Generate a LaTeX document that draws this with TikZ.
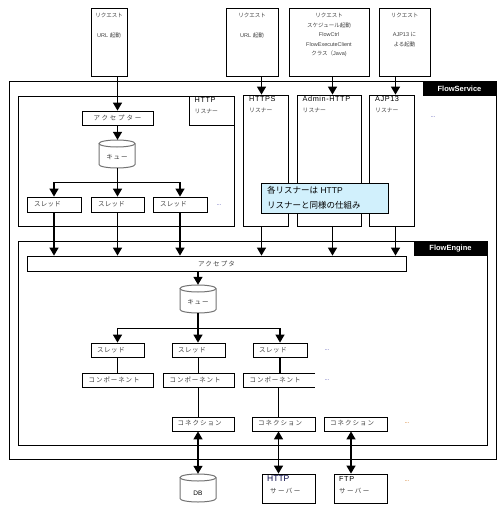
\documentclass[tikz,border=0pt]{standalone}
\usepackage{fontspec}
\setmainfont{Liberation Sans}
\newfontfamily\ja{Noto Sans CJK JP}
\usetikzlibrary{arrows.meta,fit}
\tikzset{
  bx/.style={draw, line width=0.8pt, inner sep=0pt, fill=white},
  area/.style={draw, line width=0.9pt, inner sep=0pt},
  tag/.style={fill=black, inner sep=0pt, text=white, font=\bfseries\fontsize{7.5}{8}\selectfont},
  arr/.style={line width=1.3pt, -{Triangle[width=9pt,length=8pt]}},
  darr/.style={line width=1.3pt, {Triangle[width=9pt,length=8pt]}-{Triangle[width=9pt,length=8pt]}},
  ln/.style={line width=1.3pt},
  jt/.style={font=\fontsize{5.5}{7}\selectfont, text=black!75, inner sep=0pt},
  js/.style={font=\fontsize{6.5}{7}\selectfont\ja\addfontfeature{LetterSpace=#1}, text=black!75, inner sep=0pt},
  js/.default=10,
  jl/.style={font=\fontsize{5.8}{7}\selectfont\ja, text=black!75, inner sep=0pt},
  lt/.style={font=\fontsize{7.3}{8}\selectfont\addfontfeature{LetterSpace=8}, text=black, inner sep=0pt},
  dots/.style={font=\fontsize{6}{7}\selectfont, text=blue!40!gray, inner sep=0pt},
  cyl/.style={draw=black!55, line width=1pt},
  hid/.style={inner sep=0pt},
}
\begin{document}
\begin{tikzpicture}[x=1pt,y=-1pt]
\useasboundingbox[fill=white] (0,0) rectangle (503,522);

% request boxes
\node[bx, fit={(91,8)(127,76)}] (r1) {};
\node[jt] (r1a) at (109,15) {\ja リクエスト};
\node[jt] (r1b) at (109,35) {URL {\ja 起動}};
\node[bx, fit={(226,8)(278,76)}] (r2) {};
\node[jt] (r2a) at (252,15) {\ja リクエスト};
\node[jt] (r2b) at (252,35) {URL {\ja 起動}};
\node[bx, fit={(289,8)(369,76)}] (r3) {};
\node[jt] (r3a) at (329,15) {\ja リクエスト};
\node[jt] (r3b) at (329,25.5) {\ja スケジュール起動};
\node[jt] (r3c) at (329,35) {FlowCtrl};
\node[jt] (r3d) at (329,44.5) {FlowExecuteClient};
\node[jt] (r3e) at (329,54) {{\ja クラス（}Java)};
\node[bx, fit={(379,8)(430,76)}] (r4) {};
\node[jt] (r4a) at (404.5,15) {\ja リクエスト};
\node[jt] (r4b) at (404.5,35) {AJP13 {\ja に}};
\node[jt] (r4c) at (404.5,44.5) {\ja よる起動};

% FlowService
\node[area, fit={(9,81)(496,459)}] (fs) {};
\node[tag, fit={(423,81)(496,96)}] (fsl) {};
\node[tag] (fslt) at (459.5,88.5) {FlowService};

% HTTP listener
\node[bx, fit={(18,96)(234,226)}] (hl) {};
\node[bx, fit={(189,96)(234,125)}] (hll) {};
\node[lt, anchor=north west] (hllt) at (194.5,97.5) {HTTP};
\node[jl, anchor=north west] (hllj) at (194.5,109) {リスナー};

\node[bx, fit={(243,95)(288,226)}] (hs) {};
\node[lt, anchor=north west] (hst) at (249,96.5) {HTTPS};
\node[jl, anchor=north west] (hsj) at (249,108) {リスナー};
\node[bx, fit={(297,95)(361,226)}] (ad) {};
\node[lt, anchor=north west] (adt) at (302.5,96.5) {Admin-HTTP};
\node[jl, anchor=north west] (adj) at (302.5,108) {リスナー};
\node[bx, fit={(369,95)(414,226)}] (aj) {};
\node[lt, anchor=north west] (ajt) at (375,96.5) {AJP13};
\node[jl, anchor=north west] (ajj) at (375,108) {リスナー};
\node[dots] (fsd) at (433,117) {...};

\node[bx, fill=cyan!18, fit={(261,183)(388,213)}] (note) {};
\node[anchor=west, inner sep=0pt, font=\fontsize{8.5}{10}\selectfont] (note1) at (267,190.5) {{\ja 各リスナーは} HTTP};
\node[anchor=west, inner sep=0pt, font=\fontsize{8.5}{10}\selectfont] (note2) at (267,205) {\ja リスナーと同様の仕組み};

% HTTP listener internals
\node[bx, fit={(82,111)(153,125)}] (acc1) {};
\node[js=28] (acc1t) at (117.5,118) {アクセプター};
\draw[cyl] (99,143.5) -- (99,164.5) arc[start angle=180,end angle=360,x radius=18pt,y radius=3.5pt] -- (135,143.5);
\draw[cyl] (117,143.5) ellipse[x radius=18pt,y radius=3.5pt];
\node[hid, fit={(99,140)(135,168)}] (q1) {};
\node[js=12] (q1t) at (117,157) {キュー};
\node[bx, fit={(27,197)(81,212)}] (t1) {};
\node[js=3, anchor=west] (t1t) at (34,204.5) {スレッド};
\node[bx, fit={(91,197)(144,212)}] (t2) {};
\node[js=3, anchor=west] (t2t) at (98,204.5) {スレッド};
\node[bx, fit={(153,197)(207,212)}] (t3) {};
\node[js=3, anchor=west] (t3t) at (160,204.5) {スレッド};
\node[dots] (td) at (219,205) {...};

\draw[arr] (r1.south -| acc1.north) -- (acc1.north);
\draw[arr] (acc1.south) -- (q1.north -| acc1.south);
\coordinate (b1) at (117.5,182.3);
\draw[arr] (q1.south -| acc1.south) -- (t2.north);
\draw[ln] (t1.north |- b1) -- (t3.north |- b1);
\draw[arr] (t1.north |- b1) -- (t1.north);
\draw[arr] (t3.north |- b1) -- (t3.north);

\draw[arr] (r2.south -| 261.5,0) -- (hs.north -| 261.5,0);
\draw[arr] (r3.south -| 332.5,0) -- (ad.north -| 332.5,0);
\draw[arr] (r4.south -| 395.5,0) -- (aj.north -| 395.5,0);

% FlowEngine
\node[area, fit={(18,241)(487,445)}] (fe) {};
\node[tag, fit={(414,241)(487,256)}] (fel) {};
\node[tag] (felt) at (450.5,248.5) {FlowEngine};

\node[bx, fit={(27,256)(406,271)}] (acc2) {};
\node[js=18] (acc2t) at (216.5,263.5) {アクセプタ};

\draw[arr] (t1.south) -- (acc2.north -| t1.south);
\draw[arr] (t2.south) -- (acc2.north -| t2.south);
\draw[arr] (t3.south) -- (acc2.north -| t3.south);
\draw[arr] (hs.south -| 261.5,0) -- (acc2.north -| 261.5,0);
\draw[arr] (ad.south -| 332.5,0) -- (acc2.north -| 332.5,0);
\draw[arr] (aj.south -| 395.5,0) -- (acc2.north -| 395.5,0);

\draw[cyl] (180,288.5) -- (180,309.5) arc[start angle=180,end angle=360,x radius=18pt,y radius=3.5pt] -- (216,288.5);
\draw[cyl] (198,288.5) ellipse[x radius=18pt,y radius=3.5pt];
\node[hid, fit={(180,285)(216,313)}] (q2) {};
\node[js=12] (q2t) at (198,302) {キュー};
\draw[arr] (acc2.south -| q2.north) -- (q2.north);

\node[bx, fit={(91,343)(144,357)}] (u1) {};
\node[js=8, anchor=west] (u1t) at (97,350) {スレッド};
\node[bx, fit={(172,343)(225,357)}] (u2) {};
\node[js=8, anchor=west] (u2t) at (178,350) {スレッド};
\node[bx, fit={(253,343)(307,357)}] (u3) {};
\node[js=8, anchor=west] (u3t) at (259,350) {スレッド};
\node[dots] (ud) at (327,350) {...};
\coordinate (b2) at (198,328.3);
\draw[arr] (q2.south) -- (q2.south |- u2.north);
\draw[ln] (u1.north |- b2) -- (u3.north |- b2);
\draw[arr] (u1.north |- b2) -- (u1.north);
\draw[arr] (u3.north |- b2) -- (u3.north);

\node[bx, fit={(82,373)(153,387)}] (c1) {};
\node[js=14, anchor=west] (c1t) at (88.5,380) {コンポーネント};
\node[bx, fit={(163,373)(234,387)}] (c2) {};
\node[js=14, anchor=west] (c2t) at (169.5,380) {コンポーネント};
\node[hid, fit={(243,373)(315,387)}] (c3) {};
\draw[line width=0.8pt] (315,373) -- (243,373) -- (243,387) -- (315,387);
\node[js=14, anchor=west] (c3t) at (249.5,380) {コンポーネント};
\node[dots] (cd) at (327,380) {...};
\draw[ln] (u1.south) -- (c1.north);
\draw[ln] (u2.south) -- (u2.south |- c2.north);
\draw[ln] (u3.south) -- (u3.south |- c3.north);

\node[bx, fit={(172,417)(234,431)}] (k1) {};
\node[js=15, anchor=west] (k1t) at (177.5,423.5) {コネクション};
\node[bx, fit={(252,417)(315,431)}] (k2) {};
\node[js=15, anchor=west] (k2t) at (258,423.5) {コネクション};
\node[bx, fit={(324,417)(387,431)}] (k3) {};
\node[js=15, anchor=west] (k3t) at (330,423.5) {コネクション};
\node[dots, text=orange!80!black] (kd) at (407,423) {...};
\draw[ln] (c2.south -| u2.south) -- (k1.north -| u2.south);
\draw[ln] (c3.south -| 278.5,0) -- (k2.north -| 278.5,0);

% external
\draw[cyl] (180,477.5) -- (180,498.5) arc[start angle=180,end angle=360,x radius=18pt,y radius=3.5pt] -- (216,477.5);
\draw[cyl] (198,477.5) ellipse[x radius=18pt,y radius=3.5pt];
\node[hid, fit={(180,474)(216,502)}] (db) {};
\node[font=\fontsize{6.5}{7}\selectfont, inner sep=0pt] (dbt) at (198,493) {DB};
\node[bx, fit={(262,474)(315,503)}] (hsv) {};
\node[anchor=north west, inner sep=0pt, font=\fontsize{8.5}{9}\selectfont, text=blue!25!black] (hsvt) at (267,475.5) {HTTP};
\node[js=22, anchor=north west] (hsvj) at (270,487.5) {サーバー};
\node[bx, fit={(334,474)(387,503)}] (fsv) {};
\node[lt, anchor=north west] (fsvt) at (339,476) {FTP};
\node[js=22, anchor=north west] (fsvj) at (339,487.5) {サーバー};
\node[dots, text=orange!80!black] (sd) at (407,481) {...};

\draw[darr] (k1.south -| db.north) -- (db.north);
\draw[darr] (k2.south -| 278.5,0) -- (hsv.north -| 278.5,0);
\draw[darr] (k3.south -| 351,0) -- (fsv.north -| 351,0);
\end{tikzpicture}
\end{document}
